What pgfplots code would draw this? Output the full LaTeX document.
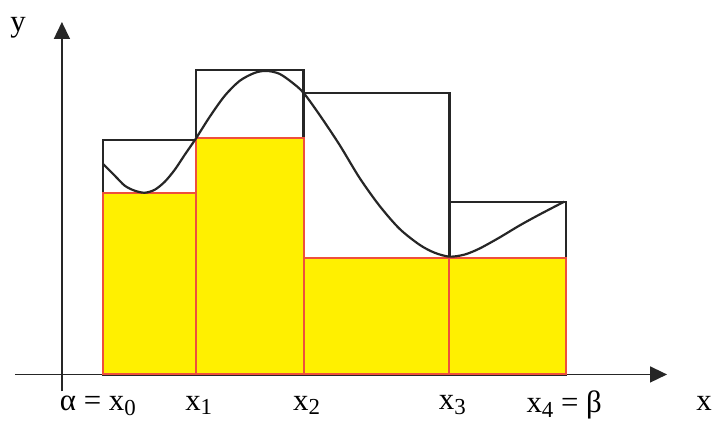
\documentclass[border=0pt]{standalone}
\usepackage{fontspec}
\setmainfont{Liberation Serif}
\usepackage{pgfplots}
\pgfplotsset{compat=1.18}
\usetikzlibrary{arrows.meta}
\definecolor{barfill}{RGB}{255,240,0}
\definecolor{baredge}{RGB}{238,80,60}
\newcommand{\sub}[1]{\raisebox{-0.35ex}{\fontsize{23}{23}\selectfont #1}}
\begin{document}
\begin{tikzpicture}
\begin{axis}[
  x=1bp, y=1bp,
  axis lines=middle,
  xmin=-47, xmax=606, ymin=-17, ymax=353,
  xtick=\empty, ytick=\empty,
  axis line style={line width=1.5bp, black!85, -{Triangle[length=17bp,width=16bp]}},
  clip=false,
]
% invisible frame fixing the picture size
\path (axis cs:-62,-50) rectangle (axis cs:653,375);
% upper sums (outline rectangles)
\addplot[ybar interval, draw=black!85, line width=2.3bp, fill=none]
  coordinates {(41,235) (134,305) (242,282) (388,173) (505,173)};
% lower sums (yellow bars)
\addplot[ybar interval, draw=baredge, line width=2bp, fill=barfill]
  coordinates {(41,182) (134,237) (242,117) (388,117) (505,117)};
% the function
\addplot[smooth, black!85, line width=2.2bp, tension=0.5] coordinates {
 (41,211) (53,199) (63,189) (73,184) (83,182) (93,185) (103,193) (113,205)
 (123,220) (134,236) (148,258) (163,279) (178,294) (193,302) (205,304)
 (218,301) (231,292) (242,282) (258,260) (278,230) (298,197) (318,169)
 (338,146) (358,130) (373,122) (388,118) (403,120) (418,126) (438,137)
 (458,149) (478,160) (503,173)};
% labels
\node[font=\fontsize{31}{34}\selectfont] at (axis cs:36,-31) {α = x\sub{0}};
\node[font=\fontsize{31}{34}\selectfont] at (axis cs:137,-31) {x\sub{1}};
\node[font=\fontsize{31}{34}\selectfont] at (axis cs:245,-31) {x\sub{2}};
\node[font=\fontsize{31}{34}\selectfont] at (axis cs:391,-31) {x\sub{3}};
\node[font=\fontsize{31}{34}\selectfont] at (axis cs:503,-31) {x\sub{4} = β};
\node[font=\fontsize{31}{34}\selectfont] at (axis cs:643,-29) {x};
\node[font=\fontsize{31}{34}\selectfont] at (axis cs:-44,347) {y};
\end{axis}
\end{tikzpicture}
\end{document}
